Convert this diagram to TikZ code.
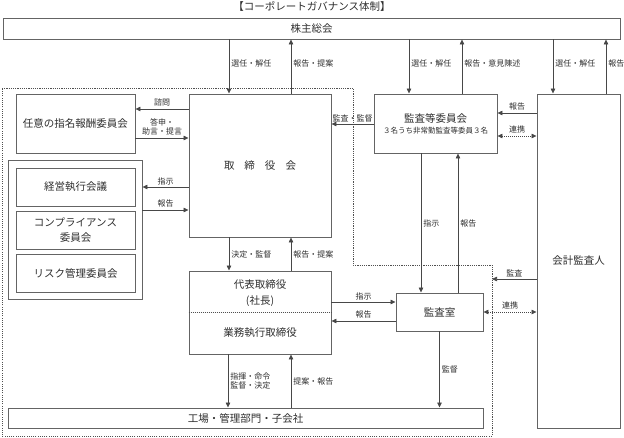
\documentclass[tikz,border=0pt]{standalone}
\usepackage{fontspec}
\setmainfont{Noto Sans CJK JP}
\usetikzlibrary{arrows.meta}
\definecolor{boxline}{HTML}{646464}
\definecolor{arrline}{HTML}{474747}
\definecolor{txt}{HTML}{2E2E2E}
\definecolor{dotline}{HTML}{505050}
\begin{document}
\begin{tikzpicture}[x=1pt,y=-1pt,
  box/.style={draw=boxline, line width=0.95pt, inner sep=0pt, text=txt,
    font=\fontsize{10.5}{15}\selectfont, align=center},
  plain/.style={inner sep=0pt, text=txt, font=\fontsize{10.5}{16}\selectfont, align=center},
  small/.style={inner sep=0pt, text=txt, font=\fontsize{7.5}{9}\selectfont},
  ttl/.style={inner sep=0pt, text=txt, font=\fontsize{10.5}{12}\selectfont},
  arr/.style={draw=arrline, line width=0.7pt, -{Triangle[length=5pt,width=4.5pt]}},
  darr/.style={draw=arrline, line width=0.7pt, dash pattern=on 1pt off 1pt,
    {Triangle[length=5pt,width=4.5pt]}-{Triangle[length=5pt,width=4.5pt]}},
  lbl/.style={font=\fontsize{8}{9.5}\selectfont, text=txt, inner sep=2pt, align=center},
  region/.style={draw=dotline, line width=0.9pt, dash pattern=on 1.1pt off 1.1pt},
  divider/.style={draw=dotline, line width=0.7pt, dash pattern=on 1pt off 1pt}
]
\useasboundingbox (0,0) rectangle (624,437);

% helper coordinates
\coordinate (c228) at (228,0);
\coordinate (c229) at (229,0);
\coordinate (c291) at (291,0);
\coordinate (c409) at (409,0);
\coordinate (c421) at (421,0);
\coordinate (c458) at (458,0);
\coordinate (c462) at (462,0);
\coordinate (c553) at (553,0);
\coordinate (c606) at (606,0);
\coordinate (h109) at (0,109);
\coordinate (h113) at (0,113);
\coordinate (h124) at (0,124);
\coordinate (h136) at (0,136);
\coordinate (h138) at (0,138);
\coordinate (h187) at (0,187);
\coordinate (h210) at (0,210);
\coordinate (h279) at (0,279);
\coordinate (h302) at (0,302);
\coordinate (h312) at (0,312);
\coordinate (h321) at (0,321);

% dotted region
\draw[region] (2,88) -- (353,88) -- (353,265) -- (492,265) -- (492,436) -- (2,436) -- cycle;
\coordinate (regionEdge) at (492,279);

% title
\node[ttl] (title) at (312,6) {【コーポレートガバナンス体制】};

% boxes
\node[box, minimum width=617pt, minimum height=21pt] (sh) at (311.5,28.5) {株主総会};
\node[box, minimum width=142pt, minimum height=143pt] (bod) at (260,165.5)
  {取\hspace{10pt}締\hspace{10pt}役\hspace{10pt}会};
\node[box, minimum width=119pt, minimum height=59pt] (nin) at (75.5,123.5) {任意の指名報酬委員会};
\node[box, minimum width=134pt, minimum height=139pt] (grp) at (75,229.5) {};
\node[box, minimum width=119pt, minimum height=38pt] (kei) at (75.5,187) {経営執行会議};
\node[box, minimum width=119pt, minimum height=38pt] (comp) at (75.5,230) {コンプライアンス\\委員会};
\node[box, minimum width=119pt, minimum height=38pt] (risk) at (75.5,273) {リスク管理委員会};
\node[box, minimum width=142pt, minimum height=83pt] (rep) at (260,312.5) {};
\node[plain] (repA) at (260,293) {代表取締役\\(社長)};
\node[plain] (repB) at (260,333) {業務執行取締役};
\draw[divider] (rep.west |- h312) -- (rep.east |- h312);
\node[box, minimum width=87pt, minimum height=38pt] (aud) at (439.5,312) {監査室};
\node[box, minimum width=475pt, minimum height=20pt] (fac) at (245.5,418) {工場・管理部門・子会社};
\node[box, minimum width=123pt, minimum height=59pt] (ac) at (435.5,123.5) {};
\node[plain] (acT) at (435.5,118) {監査等委員会};
\node[small] (acS) at (435.5,131) {３名うち非常勤監査等委員３名};
\node[box, minimum width=83pt, minimum height=334pt] (ext) at (578.5,261) {会計監査人};

% shareholders connectors
\draw[arr] (sh.south -| c229) -- node[lbl, right, pos=0.45] {選任・解任} (bod.north -| c229);
\draw[arr] (bod.north -| c291) -- node[lbl, right, pos=0.55] {報告・提案} (sh.south -| c291);
\draw[arr] (sh.south -| c409) -- node[lbl, right, pos=0.45] {選任・解任} (ac.north -| c409);
\draw[arr] (ac.north -| c462) -- node[lbl, right, pos=0.55] {報告・意見陳述} (sh.south -| c462);
\draw[arr] (sh.south -| c553) -- node[lbl, right, pos=0.45] {選任・解任} (ext.north -| c553);
\draw[arr] (ext.north -| c606) -- node[lbl, right, pos=0.55] {報告} (sh.south -| c606);

% board <-> nomination committee
\draw[arr] (bod.west |- h109) -- node[lbl, above] {諮問} (nin.east |- h109);
\draw[arr] (nin.east |- h138) -- node[lbl, above] {答申・\\助言・提言} (bod.west |- h138);

% board <-> committees group
\draw[arr] (bod.west |- h187) -- node[lbl, above] {指示} (grp.east |- h187);
\draw[arr] (grp.east |- h210) -- node[lbl, above] {報告} (bod.west |- h210);

% audit committee -> board
\draw[arr] (ac.west |- h124) -- node[lbl, above] {監査・監督} (bod.east |- h124);

% board <-> representative director
\draw[arr] (bod.south -| c229) -- node[lbl, right] {決定・監督} (rep.north -| c229);
\draw[arr] (rep.north -| c291) -- node[lbl, right] {報告・提案} (bod.south -| c291);

% representative <-> audit office
\draw[arr] (rep.east |- h302) -- node[lbl, above] {指示} (aud.west |- h302);
\draw[arr] (aud.west |- h321) -- node[lbl, above] {報告} (rep.east |- h321);

% representative <-> factories
\draw[arr] (rep.south -| c228) -- node[lbl, right] {指揮・命令\\監督・決定} (fac.north -| c228);
\draw[arr] (fac.north -| c291) -- node[lbl, right] {提案・報告} (rep.south -| c291);

% audit office -> factories
\draw[arr] (aud.south) -- node[lbl, right] {監督} (fac.north -| aud.south);

% audit committee <-> audit office
\draw[arr] (ac.south -| c421) -- node[lbl, right] {指示} (aud.north -| c421);
\draw[arr] (aud.north -| c458) -- node[lbl, right] {報告} (ac.south -| c458);

% accounting auditor connectors
\draw[arr] (ext.west |- h113) -- node[lbl, above] {報告} (ac.east |- h113);
\draw[darr] (ac.east |- h136) -- node[lbl, above] {連携} (ext.west |- h136);
\draw[arr] (ext.west |- h279) -- node[lbl, above] {監査} (regionEdge);
\draw[darr] (aud.east |- h312) -- node[lbl, above] {連携} (ext.west |- h312);
\end{tikzpicture}
\end{document}
